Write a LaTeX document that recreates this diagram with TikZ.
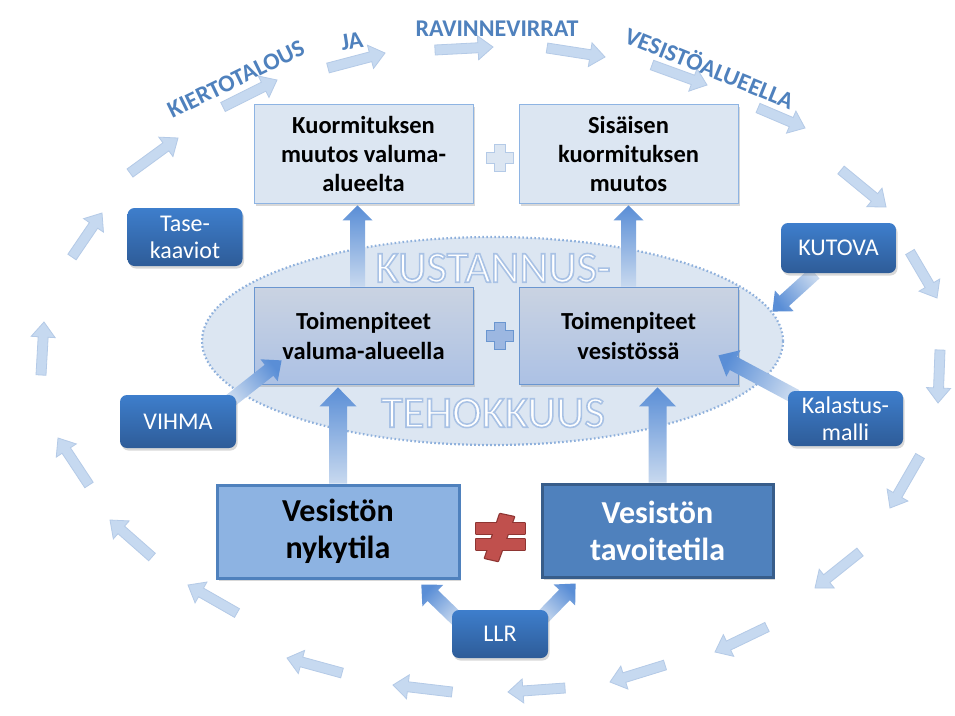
\documentclass[tikz,border=0pt]{standalone}
\usepackage{fontspec}
\setmainfont{Carlito}
\usetikzlibrary{calc,shapes.geometric,shadows}
\definecolor{ringfill}{HTML}{C6D9F0}
\definecolor{ringline}{HTML}{B4CAE7}
\definecolor{ellfill}{HTML}{DCE6F2}
\definecolor{elldraw}{HTML}{8EB0DC}
\definecolor{tbfill}{HTML}{DCE6F2}
\definecolor{tbdraw}{HTML}{8EB4E3}
\definecolor{mbtop}{HTML}{CAD3E2}
\definecolor{mbbot}{HTML}{ACC1E4}
\definecolor{mbdraw}{HTML}{6A96D0}
\definecolor{nyfill}{HTML}{8DB3E2}
\definecolor{nydraw}{HTML}{4F81BD}
\definecolor{tavfill}{HTML}{4F81BD}
\definecolor{tavdraw}{HTML}{385D8A}
\definecolor{sbtop}{HTML}{3E7ECC}
\definecolor{sbbot}{HTML}{2E5C98}
\definecolor{titleblue}{HTML}{4F81BD}
\definecolor{flowlight}{HTML}{C8D9EF}
\definecolor{flowdark}{HTML}{5A8ED6}
\definecolor{neqred}{HTML}{C0504D}
\definecolor{neqdark}{HTML}{8E3532}
\newcommand\hollow[1]{{\color{white}\special{pdf:literal direct 2 Tr 1.6 w 0.663 0.761 0.898 RG}#1%
    \special{pdf:literal direct 0 Tr 0.4 w}}}
\newcommand\blockarrow[6][]{%
    \coordinate (fb) at ($(#3)!#6pt!(#2)$);
    \path[#1] ($(#2)!#4pt!90:(#3)$) -- ($(fb)!#4pt!90:(#3)$) -- ($(fb)!#5pt!90:(#3)$) -- (#3)
        -- ($(fb)!#5pt!-90:(#3)$) -- ($(fb)!#4pt!-90:(#3)$) -- ($(#2)!#4pt!-90:(#3)$) -- cycle;
}
\pgfdeclarelayer{back}
\pgfdeclarelayer{front}
\pgfsetlayers{back,main,front}
\begin{document}
\begin{tikzpicture}[x=1pt, y=-1pt,
        boxshadow/.style={drop shadow={shadow xshift=1.5pt, shadow yshift=-2.5pt, opacity=.3}},
        tbox/.style={rectangle, draw=tbdraw, fill=tbfill, line width=.8pt, minimum width=219pt, minimum height=99pt,
            align=center, font=\bfseries\fontsize{24.5}{29}\selectfont, boxshadow},
        mbox/.style={rectangle, draw=mbdraw, top color=mbtop, bottom color=mbbot, line width=.8pt,
            minimum width=219pt, minimum height=97pt, align=center, font=\bfseries\fontsize{24.5}{30}\selectfont, boxshadow},
        bbox/.style={rectangle, line width=3pt, minimum height=93pt, align=center,
            font=\bfseries\fontsize{32}{37}\selectfont, boxshadow},
        sbox/.style={rectangle, rounded corners=7pt, top color=sbtop, bottom color=sbbot, text=white,
            minimum width=115pt, align=center, inner sep=2pt, font=\fontsize{24}{27}\selectfont, boxshadow},
        cycletxt/.style={text=titleblue, font=\bfseries\fontsize{24}{28}\selectfont, inner sep=1pt},
        ringarrow/.style={fill=ringfill, draw=ringline, line width=.8pt},
        flowshade/.style={top color=flowdark, bottom color=flowlight}]
    \useasboundingbox (0,0) rectangle (955,715);
    \begin{pgfonlayer}{back}
        \fill[white] (0,0) rectangle (955,715);
        \foreach \xa/\ya/\xb/\yb in {237/613/188/585, 152/557/110/520, 89/485/58/438, 41/375/44/322,
                72/257/102/213, 130/173/178/138, 223/107/277/80, 328/68/385/53, 435/50/493/47,
                547/48/605/57, 652/65/707/85, 758/108/805/128, 841/170/886/207, 910/252/937/298,
                940/350/938/403, 920/456/890/508, 860/552/815/588, 767/627/715/652, 665/665/610/682,
                565/688/508/692, 452/692/393/685, 342/673/287/658}
            {\blockarrow[ringarrow]{\xa,\ya}{\xb,\yb}{5}{12}{15}}
        \node[ellipse, minimum width=581pt, minimum height=208pt, inner sep=0pt, fill=ellfill, draw=elldraw,
            line width=2.2pt, dash pattern=on 1.6pt off 2.4pt] (ell) at (492.5,341) {};
        \node[font=\fontsize{44.5}{50}\selectfont, inner sep=0pt] (kust) at (493,268) {\hollow{KUSTANNUS-}};
        \node[font=\fontsize{44.5}{50}\selectfont, inner sep=0pt] (teho) at (493,413) {\hollow{TEHOKKUUS}};
    \end{pgfonlayer}

    \node[cycletxt, rotate=26] (kier) at (236,79) {KIERTOTALOUS};
    \node[cycletxt, rotate=9] (ja) at (352,41) {JA};
    \node[cycletxt] (rav) at (497,29) {RAVINNEVIRRAT};
    \node[cycletxt, rotate=-22] (vesi) at (710,67) {VESISTÖALUEELLA};

    \node[tbox] (t1) at (363.5,153.5) {Kuormituksen\\muutos valuma-\\alueelta};
    \node[tbox] (t2) at (628.5,153.5) {Sisäisen\\kuormituksen\\muutos};
    \node[mbox] (m1) at (363.5,335.5) {Toimenpiteet\\valuma-alueella};
    \node[mbox] (m2) at (628.5,335.5) {Toimenpiteet\\vesistössä};
    \node[bbox, draw=nydraw, fill=nyfill, minimum width=242pt] (ny) at (338,531.5) {Vesistön\\nykytila};
    \node[bbox, draw=tavdraw, fill=tavfill, text=white, minimum width=231pt] (tav) at (657.5,530.5) {Vesistön\\tavoitetila};

    \begin{pgfonlayer}{front}
        \node[sbox, minimum height=58pt] (tase) at (185,237) {Tase-\\kaaviot};
        \node[sbox, minimum height=53pt, minimum width=116pt] (vihma) at (178,421.5) {VIHMA};
        \node[sbox, minimum height=50pt] (kutova) at (838.5,248) {KUTOVA};
        \node[sbox, minimum height=55pt] (kalastus) at (845.5,418.5) {Kalastus-\\malli};
        \node[sbox, minimum height=48pt, minimum width=96pt] (llr) at (500,634) {LLR};
    \end{pgfonlayer}

    \coordinate (a1) at ($(m1.north)+(-6,0)$);
    \coordinate (b1) at ($(t1.south)+(-6,2)$);
    \coordinate (b2) at ($(t2.south)+(0,2)$);
    \coordinate (b3) at ($(ny.north |- m1.south)+(0,3)$);
    \coordinate (b4) at ($(tav.north |- m2.south)+(0,3)$);
    \coordinate (a5) at ($(vihma.north east)+(-6,6)$);
    \coordinate (b5) at ($(m1.south west)+(28,-24)$);
    \coordinate (a6) at ($(kutova.south west)+(34,0)$);
    \coordinate (a7) at ($(kalastus.north west)+(8,6)$);
    \coordinate (b7) at ($(m2.south east)+(-20,-29)$);
    \coordinate (a8) at ($(llr.north west)+(6,10)$);
    \coordinate (b8) at ($(ny.south east)!.16!(ny.south west)+(0,5)$);
    \coordinate (a9) at ($(llr.north east)+(-6,8)$);
    \coordinate (b9) at ($(tav.south west)!.15!(tav.south east)+(0,5)$);
    \blockarrow[flowshade, shading angle=0]{a1}{b1}{7.5}{15}{15}
    \blockarrow[flowshade, shading angle=0]{m2.north}{b2}{7.5}{15}{15}
    \blockarrow[flowshade, shading angle=0]{ny.north}{b3}{9}{18.5}{19}
    \blockarrow[flowshade, shading angle=0]{tav.north}{b4}{9}{18.5}{19}
    \blockarrow[flowshade, shading angle=-52]{a5}{b5}{7}{14}{16}
    \blockarrow[flowshade, shading angle=127]{a6}{ell.6}{7}{14}{16}
    \blockarrow[flowshade, shading angle=62]{a7}{b7}{7.5}{15}{17}
    \blockarrow[flowshade, shading angle=46]{a8}{b8}{7.5}{15}{16}
    \blockarrow[flowshade, shading angle=-44]{a9}{b9}{7.5}{15}{16}

    \draw[fill=tbfill, draw=ringline, line width=.8pt, shift={(500,158)}]
        (-5.5,-13.5) -- (5.5,-13.5) -- (5.5,-5.5) -- (13.5,-5.5) -- (13.5,5.5) -- (5.5,5.5) -- (5.5,13.5)
        -- (-5.5,13.5) -- (-5.5,5.5) -- (-13.5,5.5) -- (-13.5,-5.5) -- (-5.5,-5.5) -- cycle;
    \draw[fill=mbbot!80!flowdark, draw=mbdraw, line width=.8pt, shift={(500,336)}]
        (-5.5,-13.5) -- (5.5,-13.5) -- (5.5,-5.5) -- (13.5,-5.5) -- (13.5,5.5) -- (5.5,5.5) -- (5.5,13.5)
        -- (-5.5,13.5) -- (-5.5,5.5) -- (-13.5,5.5) -- (-13.5,-5.5) -- (-5.5,-5.5) -- cycle;

    \draw[neqdark, fill=neqdark, line width=2.4pt, line join=round] (476,523) rectangle (525,534);
    \draw[neqdark, fill=neqdark, line width=2.4pt, line join=round] (476,539) rectangle (525,550);
    \draw[neqdark, fill=neqdark, line width=2.4pt, line join=round] (500,514) -- (514,517) -- (498,561) -- (485,558) -- cycle;
    \fill[neqred] (476,523) rectangle (525,534);
    \fill[neqred] (476,539) rectangle (525,550);
    \fill[neqred] (500,514) -- (514,517) -- (498,561) -- (485,558) -- cycle;
\end{tikzpicture}
\end{document}
